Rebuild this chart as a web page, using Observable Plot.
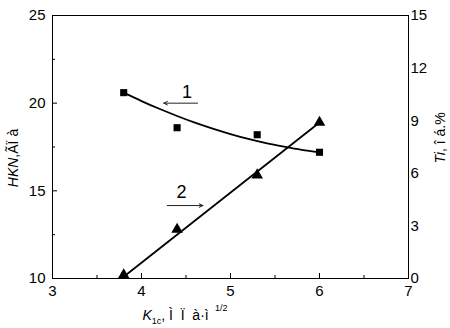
<!DOCTYPE html>
<html><head><meta charset="utf-8">
<script src="https://cdn.jsdelivr.net/npm/d3@7"></script>
<script src="https://cdn.jsdelivr.net/npm/@observablehq/plot@0.6"></script>
<style>
body{margin:0;background:#fff;}
</style>
</head><body><div id="chart"></div>
<script>
// measured points
const kx = [3.8, 4.4, 5.3, 6.0];
const hkn = [20.6, 18.6, 18.2, 17.2];      // series 1, left axis
const ti = [0.2, 2.8, 5.9, 8.9];           // series 2, right axis
// curve 1 (fit)
const fit1X = [3.8, 4.0, 4.2, 4.4, 4.6, 4.8, 5.0, 5.2, 5.4, 5.6, 5.8, 6.0];
const fit1Y = [20.6, 20.12, 19.68, 19.27, 18.89, 18.55, 18.24, 17.96, 17.72, 17.52, 17.34, 17.2];
// line 2 (fit)
const fit2X = [3.8, 6.0];
const fit2Ti = [0.1, 8.9];
// ticks
const xTicks = [3, 4, 5, 6, 7];
const xMinor = [3.5, 4.5, 5.5, 6.5];
const yTicks = [10, 15, 20, 25];
const yMinor = [12.5, 17.5, 22.5];
const tiTicks = [0, 3, 6, 9, 12, 15];
// annotations: arrows and labels
const arrowLabels = ["1", "2"];
const arrowFromX = [4.63, 4.29];
const arrowToX = [4.25, 4.69];
const arrowLevel = [20.0, null];   // series 1 on HKN axis
const arrowLevelTi = [null, 4.16]; // series 2 on Ti axis
const labelX = [4.51, 4.45];
const labelLevel = [20.64, null];
const labelLevelTi = [null, 4.93];

const W = 450, H = 328, ML = 52, MR = 42, MT = 15, MB = 50;
const PW = W - ML - MR, PH = H - MT - MB;

const tiToY = d3.scaleLinear([0, 15], [10, 25]);

const pts1 = kx.map((x, i) => ({x, y: hkn[i]}));
const pts2 = kx.map((x, i) => ({x, y: tiToY(ti[i])}));
const curve1 = fit1X.map((x, i) => ({x, y: fit1Y[i]}));
const curve2 = fit2X.map((x, i) => ({x, y: tiToY(fit2Ti[i])}));
const arrows = arrowLabels.map((l, i) => ({
  x1: arrowFromX[i], x2: arrowToX[i],
  y: arrowLevel[i] != null ? arrowLevel[i] : tiToY(arrowLevelTi[i])
}));
const labels = arrowLabels.map((l, i) => ({
  text: l, x: labelX[i],
  y: labelLevel[i] != null ? labelLevel[i] : tiToY(labelLevelTi[i])
}));

const font = "Liberation Sans, Arial, sans-serif";

const plot = Plot.plot({
  width: W, height: H,
  marginLeft: ML, marginRight: MR, marginTop: MT, marginBottom: MB,
  x: {domain: [3, 7]},
  y: {domain: [10, 25]},
  style: {fontSize: "15px", fontFamily: font, color: "#000", background: "#fff"},
  marks: [
    // inward ticks on left and bottom
    Plot.ruleY(yTicks, {y: d => d, insetRight: PW - 5, stroke: "#000", strokeWidth: 1}),
    Plot.ruleY(yMinor, {y: d => d, insetRight: PW - 3, stroke: "#000", strokeWidth: 1}),
    Plot.ruleX(xTicks, {x: d => d, insetTop: PH - 5, stroke: "#000", strokeWidth: 1}),
    Plot.ruleX(xMinor, {x: d => d, insetTop: PH - 3, stroke: "#000", strokeWidth: 1}),
    Plot.frame({stroke: "#000", strokeWidth: 1}),
    // axis labels
    Plot.axisY({ticks: yTicks, tickSize: 0, tickPadding: 7, label: null, fontSize: 15}),
    Plot.axisX({ticks: xTicks, tickFormat: d => String(d), tickSize: 0, tickPadding: 7, label: null, fontSize: 15}),
    Plot.axisY({anchor: "right", ticks: tiTicks.map(t => tiToY(t)), tickFormat: d => String(Math.round(tiToY.invert(d))), tickSize: 0, tickPadding: 2, label: null, fontSize: 15}),
    // curves
    Plot.line(curve1, {x: "x", y: "y", curve: "natural", stroke: "#000", strokeWidth: 1.8}),
    Plot.line(curve2, {x: "x", y: "y", stroke: "#000", strokeWidth: 1.8}),
    Plot.dot(pts1, {x: "x", y: "y", symbol: "square", r: 4, fill: "#000", stroke: "none"}),
    Plot.dot(pts2, {x: "x", y: "y", symbol: "triangle", r: 4.3, fill: "#000", stroke: "none"}),
    // arrows and labels
    Plot.arrow(arrows, {x1: "x1", x2: "x2", y1: "y", y2: "y", stroke: "#222", strokeWidth: 1, headLength: 6, headAngle: 50}),
    Plot.text(labels, {x: "x", y: "y", text: "text", fontSize: 18, fill: "#000", lineAnchor: "middle"})
  ]
});

const svg = d3.select(plot);
// left title
const lt = svg.append("text")
  .attr("transform", "translate(18,158) rotate(-90)")
  .attr("text-anchor", "middle").attr("font-size", 14).attr("fill", "#000").attr("font-family", font);
lt.append("tspan").attr("font-style", "italic").text("HKN");
lt.append("tspan").text(",ÃÏ à");
// right title
const rt = svg.append("text")
  .attr("transform", "translate(445,138) rotate(-90)")
  .attr("text-anchor", "middle").attr("font-size", 14).attr("fill", "#000").attr("font-family", font);
rt.append("tspan").attr("font-style", "italic").text("Ti");
rt.append("tspan").text(", î á.%");
// bottom title
const bt = svg.append("text")
  .attr("x", 185).attr("y", 320).attr("font-size", 14).attr("fill", "#000").attr("font-family", font);
bt.append("tspan").attr("font-style", "italic").text("K");
bt.append("tspan").attr("font-size", 9).attr("dy", 4).text("1c");
bt.append("tspan").attr("dy", -4).text(", Ì  Ï  à·ì ");
bt.append("tspan").attr("font-size", 9).attr("dy", -9).text(" 1/2");

document.getElementById("chart").appendChild(plot);
</script>
</body></html>
